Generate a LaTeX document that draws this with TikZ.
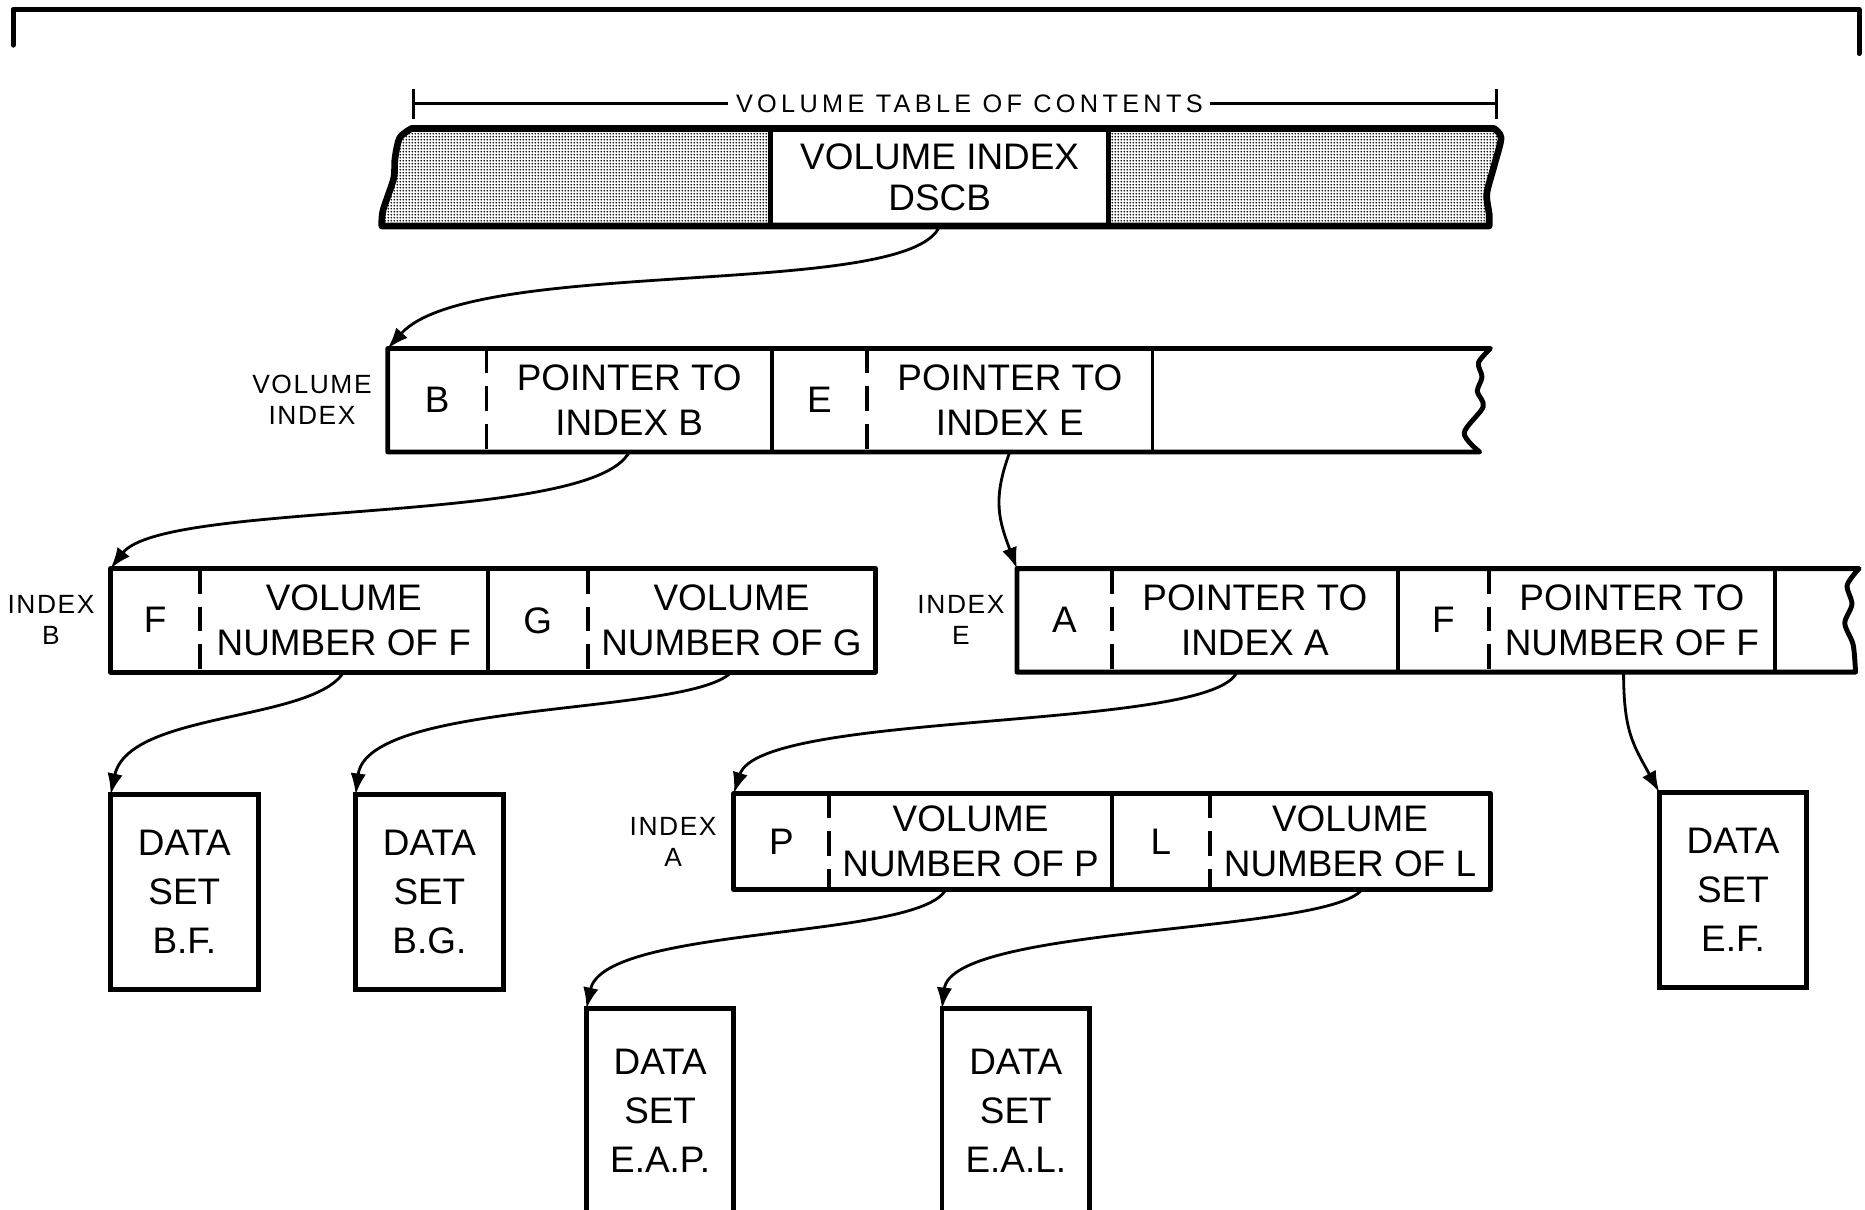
\documentclass[tikz,border=0pt]{standalone}
\usepackage{fontspec}
\setmainfont{Liberation Sans}
\usetikzlibrary{
    arrows.meta,
    positioning,
    patterns.meta
}
\newlength{\pxu}
\setlength{\pxu}{0.11894mm}

\begin{document}
\begin{tikzpicture}[
    x=0.11894mm, y=-0.11894mm,
    >={Latex[length=6pt,width=4.4pt]},
    cell/.style={anchor=west, inner sep=0pt, outer sep=0pt, align=center,
        minimum width=#1\pxu, minimum height=87\pxu,
        font=\fontsize{10.5}{12.9}\selectfont},
    acell/.style={cell=#1, minimum height=81\pxu},
    rec/.style={line width=1.4pt, line join=round},
    dsep/.style={line width=1.1pt, dash pattern=on 7.1pt off 3.7pt},
    ssep/.style={line width=1.1pt},
    lbl/.style={inner sep=0pt, align=center,
        font=\fontsize{7.5}{8.8}\selectfont\addfontfeatures{LetterSpace=6}},
    dset/.style={draw, line width=1.4pt, anchor=north west, inner sep=0pt,
        outer sep=0pt, minimum width=124\pxu, minimum height=164\pxu,
        align=center, font=\fontsize{10.5}{13.9}\selectfont},
    link/.style={->, line width=0.8pt}
]

\useasboundingbox (0,0) rectangle (1568,1017);
\fill[white] (0,0) rectangle (1568,1017);

\draw[line width=1.4pt, line cap=round, line join=round]
    (11,38) -- (11,8) -- (1563,8) -- (1563,45);

% volume table of contents
\coordinate (vtL) at (348,87);
\coordinate (vtR) at (1258,87);
\node[fill=white, inner sep=2pt,
    font=\fontsize{7.2}{8}\selectfont\addfontfeatures{LetterSpace=17}]
    (vtoc) at (815,87) {VOLUME TABLE OF CONTENTS};
\draw[line width=0.85pt] (vtL) -- (vtoc);
\draw[line width=0.85pt] (vtoc) -- (vtR);
\draw[line width=0.85pt] (348,75) -- (348,100);
\draw[line width=0.85pt] (1258,75) -- (1258,100);

\node[cell=284, minimum height=82\pxu,
    font=\fontsize{10.5}{11.5}\selectfont]
    (dscb) at (648,149) {VOLUME INDEX\\DSCB};

\fill[pattern={Dots[radius=0.3pt, distance=0.9pt]}]
    (dscb.north west) --
    plot[smooth] coordinates {(346,108) (336,116) (332,134) (331,150) (322,177) (321,190)}
    -- (dscb.south west) -- cycle;
\fill[pattern={Dots[radius=0.3pt, distance=0.9pt]}]
    (dscb.north east) --
    plot[smooth] coordinates {(1256,108) (1262,116) (1256,140) (1250,163) (1252,180) (1252,190)}
    -- (dscb.south east) -- cycle;
\draw[line width=1.9pt, line join=round]
    plot[smooth] coordinates {(346,108) (336,116) (332,134) (331,150) (322,177) (321,190)}
    -- plot[smooth] coordinates {(1252,190) (1252,180) (1250,163) (1256,140) (1262,116) (1256,108)}
    -- cycle;
\draw[line width=1.3pt] (dscb.north west) -- (dscb.south west);
\draw[line width=1.3pt] (dscb.north east) -- (dscb.south east);

% volume index
\node[cell=83] (viB) at (326,336.5) {B};
\node[cell=240, right=0pt of viB] (viPB) {POINTER TO\\INDEX B};
\node[cell=80, right=0pt of viPB] (viE) {E};
\node[cell=240, right=0pt of viE] (viPE) {POINTER TO\\INDEX E};
\node[lbl, left=13\pxu of viB] (viLbl) {VOLUME\\INDEX};

\draw[rec]
    plot[smooth] coordinates {(1244,380) (1231,364) (1247,342) (1242,329) (1246,317) (1243,305) (1253,293)}
    -- (viB.north west) -- (viB.south west) -- cycle;
\draw[dsep] (viB.north east) -- (viB.south east);
\draw[ssep] (viPB.north east) -- (viPB.south east);
\draw[dsep] (viE.north east) -- (viE.south east);
\draw[ssep] (viPE.north east) -- (viPE.south east);

% index B
\node[cell=75] (ibF) at (93,521.5) {F};
\node[cell=242, right=0pt of ibF] (ibVF) {VOLUME\\NUMBER OF F};
\node[cell=84, right=0pt of ibVF] (ibG) {G};
\node[cell=242, right=0pt of ibG] (ibVG) {VOLUME\\NUMBER OF G};
\node[lbl, left=13\pxu of ibF] (ibLbl) {INDEX\\B};

\draw[rec] (ibF.north west) rectangle (ibVG.south east);
\draw[dsep] (ibF.north east) -- (ibF.south east);
\draw[ssep] (ibVF.north east) -- (ibVF.south east);
\draw[dsep] (ibG.north east) -- (ibG.south east);

% index E
\node[cell=80] (ieA) at (855,521.5) {A};
\node[cell=240, right=0pt of ieA] (ieIA) {POINTER TO\\INDEX A};
\node[cell=77, right=0pt of ieIA] (ieF) {F};
\node[cell=240, right=0pt of ieF] (ieNF) {POINTER TO\\NUMBER OF F};
\node[lbl, left=10\pxu of ieA] (ieLbl) {INDEX\\E};

\draw[rec]
    plot[smooth] coordinates {(1560,565) (1558,542) (1551,524) (1557,508) (1553,492) (1563,478)}
    -- (ieA.north west) -- (ieA.south west) -- cycle;
\draw[dsep] (ieA.north east) -- (ieA.south east);
\draw[ssep] (ieIA.north east) -- (ieIA.south east);
\draw[dsep] (ieF.north east) -- (ieF.south east);
\draw[ssep] (ieNF.north east) -- (ieNF.south east);

% index A
\node[acell=80] (iaP) at (617,707.5) {P};
\node[acell=238, right=0pt of iaP] (iaVP) {VOLUME\\NUMBER OF P};
\node[acell=82, right=0pt of iaVP] (iaL) {L};
\node[acell=236, right=0pt of iaL] (iaVL) {VOLUME\\NUMBER OF L};
\node[lbl, left=14\pxu of iaP] (iaLbl) {INDEX\\A};

\draw[rec] (iaP.north west) rectangle (iaVL.south east);
\draw[dsep] (iaP.north east) -- (iaP.south east);
\draw[ssep] (iaVP.north east) -- (iaVP.south east);
\draw[dsep] (iaL.north east) -- (iaL.south east);

% data sets
\node[dset] (dsBF) at (93,668) {DATA\\SET\\B.F.};
\node[dset] (dsBG) at (299,668) {DATA\\SET\\B.G.};
\node[dset] (dsEF) at (1395,666) {DATA\\SET\\E.F.};
\node[dset, minimum height=172\pxu] (dsEAP) at (493,848) {DATA\\SET\\E.A.P.};
\node[dset, minimum height=172\pxu] (dsEAL) at (792,848) {DATA\\SET\\E.A.L.};

% pointers
\draw[link] (dscb.south) .. controls +(-25,62) and +(70,-78) .. (viB.north west);
\draw[link] (viPB.south) .. controls +(-32,62) and +(45,-58) .. (ibF.north west);
\draw[link] (viPE.south) .. controls +(-15,40) and +(-15,-40) .. (ieA.north west);
\draw[link] (ibVF.south) .. controls +(-26,42) and +(15,-70) .. (dsBF.north west);
\draw[link] (ibVG.south) .. controls +(-35,37) and +(10,-80) .. (dsBG.north west);
\draw[link] ([xshift=-15\pxu]ieIA.south) .. controls +(-22,50) and +(22,-70) .. (iaP.north west);
\draw[link] ([xshift=-7\pxu]ieNF.south) .. controls +(0,50) and +(-22,-40) .. (dsEF.north west);
\draw[link] ([xshift=-21\pxu]iaVP.south) .. controls +(-22,42) and +(15,-70) .. (dsEAP.north west);
\draw[link] ([xshift=10\pxu]iaVL.south) .. controls +(-30,37) and +(8,-70) .. (dsEAL.north west);

\end{tikzpicture}
\end{document}
